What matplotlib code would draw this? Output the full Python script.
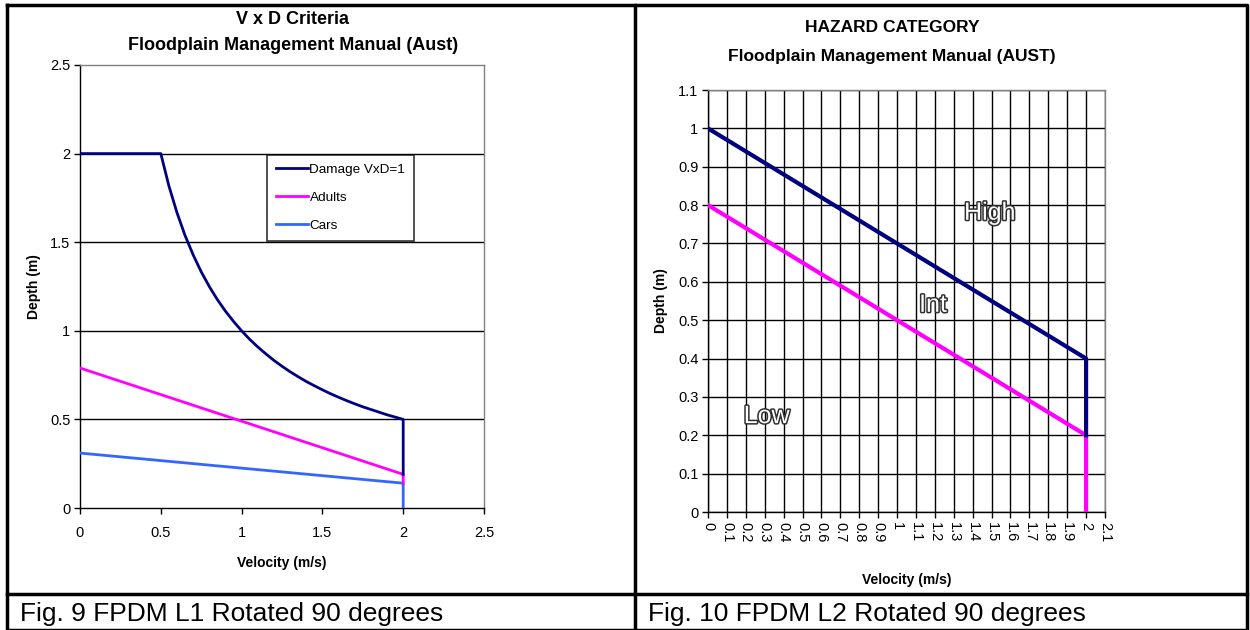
import matplotlib
matplotlib.use("Agg")
import matplotlib.pyplot as plt
import matplotlib.patheffects as pe
from matplotlib.lines import Line2D

plt.rcParams['font.family'] = ['Liberation Sans', 'DejaVu Sans']

# left chart: V x D criteria
damage_v = [0, 0.5, 0.55, 0.6, 0.65, 0.7, 0.75, 0.8, 0.85, 0.9, 0.95, 1.0, 1.05, 1.1, 1.15, 1.2,
            1.25, 1.3, 1.35, 1.4, 1.45, 1.5, 1.55, 1.6, 1.65, 1.7, 1.75, 1.8, 1.85, 1.9, 1.95, 2.0, 2.0]
damage_d = [2.0, 2.0, 1.818, 1.667, 1.538, 1.429, 1.333, 1.25, 1.176, 1.111, 1.053, 1.0, 0.952,
            0.909, 0.870, 0.833, 0.8, 0.769, 0.741, 0.714, 0.690, 0.667, 0.645, 0.625, 0.606,
            0.588, 0.571, 0.556, 0.541, 0.526, 0.513, 0.5, 0.19]
adults_v = [0, 2.0, 2.0]
adults_d = [0.79, 0.19, 0.14]
cars_v = [0, 2.0, 2.0]
cars_d = [0.31, 0.14, 0.0]

# right chart: hazard category
high_v = [0, 2.0, 2.0]
high_d = [1.0, 0.4, 0.2]
int_v = [0, 2.0, 2.0]
int_d = [0.8, 0.2, 0.0]
zone_labels = ["High", "Int", "Low"]
zone_v = [1.49, 1.19, 0.31]
zone_d = [0.78, 0.54, 0.25]

NAVY = "#000080"
MAGENTA = "#FF00FF"
BLUE = "#3366FF"

W, H = 1250, 630
fig = plt.figure(figsize=(12.5, 6.3), dpi=100)


def px_axes(x0, y0, x1, y1):
    # pixel box (top-left origin) -> figure axes
    return fig.add_axes([x0 / W, 1 - y1 / H, (x1 - x0) / W, (y1 - y0) / H])


def fig_line(xs, ys, lw=2.5):
    fig.add_artist(Line2D([x / W for x in xs], [1 - y / H for y in ys],
                          color="black", lw=lw, transform=fig.transFigure))


def fig_text(x, y, s, **kw):
    fig.text(x / W, 1 - y / H, s, **kw)


def style_axes(ax):
    for side in ["top", "right"]:
        ax.spines[side].set_color("#808080")
        ax.spines[side].set_linewidth(1)
    for side in ["left", "bottom"]:
        ax.spines[side].set_color("black")
        ax.spines[side].set_linewidth(1)
    ax.tick_params(direction="out", length=4, width=1, labelsize=10.5, pad=3)


# ---- left chart ----
ax1 = px_axes(80, 65, 484, 508)
ax1.set_xlim(0, 2.5)
ax1.set_ylim(0, 2.5)
ax1.set_xticks([0, 0.5, 1, 1.5, 2, 2.5])
ax1.set_xticklabels(["0", "0.5", "1", "1.5", "2", "2.5"])
ax1.set_yticks([0, 0.5, 1, 1.5, 2, 2.5])
ax1.set_yticklabels(["0", "0.5", "1", "1.5", "2", "2.5"])
for y in [0.5, 1, 1.5, 2]:
    ax1.axhline(y, color="black", lw=1, zorder=1)
ax1.plot(cars_v, cars_d, color=BLUE, lw=2, label="Cars", zorder=3)
ax1.plot(adults_v, adults_d, color=MAGENTA, lw=2, label="Adults", zorder=4)
ax1.plot(damage_v, damage_d, color=NAVY, lw=2, label="Damage VxD=1", zorder=5)
style_axes(ax1)
ax1.tick_params(axis="x", pad=9)
handles, labels = ax1.get_legend_handles_labels()
leg = ax1.legend(handles[::-1], labels[::-1], loc="upper left",
                 bbox_to_anchor=(0.463, 0.797), borderaxespad=0,
                 fontsize=9.7, frameon=True, fancybox=False, handlelength=2.4,
                 handletextpad=0.1, labelspacing=1.15, borderpad=0.65)
leg.get_frame().set_edgecolor("black")
leg.get_frame().set_linewidth(1.2)
ax1.set_xlabel("Velocity (m/s)", fontsize=10, fontweight="bold")
ax1.xaxis.set_label_coords(0.5, -0.108)
ax1.set_ylabel("Depth (m)", fontsize=10, fontweight="bold")
ax1.yaxis.set_label_coords(-0.097, 0.5)
fig_text(293, 19, "V x D Criteria", fontsize=13, fontweight="bold", ha="center", va="center")
fig_text(293, 46, "Floodplain Management Manual (Aust)", fontsize=13, fontweight="bold",
         ha="center", va="center")

# ---- right chart ----
ax2 = px_axes(708, 90, 1105, 512)
ax2.set_xlim(0, 2.1)
ax2.set_ylim(0, 1.1)
xt = [i / 10 for i in range(22)]
ax2.set_xticks(xt)
ax2.set_xticklabels(["%g" % v for v in xt], rotation=-90)
yt = [i / 10 for i in range(12)]
ax2.set_yticks(yt)
ax2.set_yticklabels(["%g" % v for v in yt])
ax2.grid(True, color="black", lw=1)
ax2.set_axisbelow(True)
ax2.plot(int_v, int_d, color=MAGENTA, lw=3, zorder=4)
ax2.plot(high_v, high_d, color=NAVY, lw=3, zorder=5)
for lab, v, d in zip(zone_labels, zone_v, zone_d):
    ax2.text(v, d, lab, fontsize=18, ha="center", va="center", color="white",
             zorder=6, path_effects=[pe.withStroke(linewidth=2.2, foreground="#303030")])
style_axes(ax2)
ax2.set_xlabel("Velocity (m/s)", fontsize=10, fontweight="bold")
ax2.xaxis.set_label_coords(0.5, -0.145)
ax2.set_ylabel("Depth (m)", fontsize=10, fontweight="bold")
ax2.yaxis.set_label_coords(-0.101, 0.5)
fig_text(892, 28, "HAZARD CATEGORY", fontsize=12.5, fontweight="bold", ha="center", va="center")
fig_text(892, 57, "Floodplain Management Manual (AUST)", fontsize=12.5, fontweight="bold",
         ha="center", va="center")

# ---- table borders and captions ----
fig_line([7, 1247, 1247, 7, 7], [5, 5, 630, 630, 5])
fig_line([635, 635], [5, 630])
fig_line([7, 1247], [594, 594])
fig_text(20, 614, "Fig. 9 FPDM L1 Rotated 90 degrees", fontsize=19, va="center", ha="left")
fig_text(648, 614, "Fig. 10 FPDM L2 Rotated 90 degrees", fontsize=19, va="center", ha="left")

fig.savefig("out.png", dpi=100, facecolor="white")
